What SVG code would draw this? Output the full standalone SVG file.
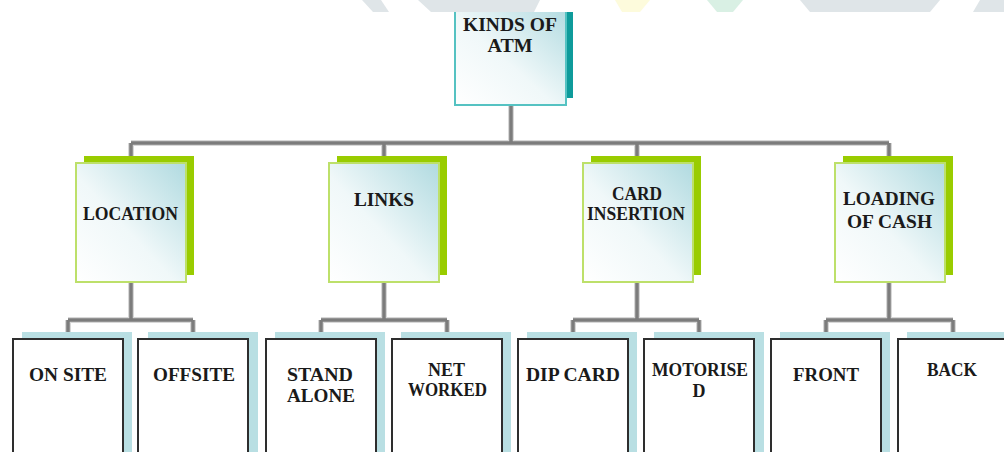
<svg xmlns="http://www.w3.org/2000/svg" width="1004" height="452" viewBox="0 0 1004 452">
<defs>
<linearGradient id="gFront" x1="0" y1="1" x2="1" y2="0">
<stop offset="0" stop-color="#ffffff"/>
<stop offset="0.45" stop-color="#f0f8f9"/>
<stop offset="1" stop-color="#b0dae0"/>
</linearGradient>
<clipPath id="clipTop"><rect x="0" y="12" width="1004" height="440"/></clipPath>
</defs>
<style>
.t{font-family:"Liberation Serif","Times New Roman",serif;font-weight:bold;font-size:18px;fill:#1a1a1a;text-anchor:middle}
.wm{stroke:none}
.c-sh{fill:none;stroke:#a8a8a8;stroke-width:6;stroke-opacity:0.45}
.c{fill:none;stroke:#7c7c7c;stroke-width:3.5}
.b1{fill:#0e9b9b}
.f1{fill:url(#gFront);stroke:#55c2c2;stroke-width:2}
.b2{fill:#99cc00}
.f2{fill:url(#gFront);stroke:#bde06a;stroke-width:2}
.b3{fill:#b9dfe3}
.f3{fill:#ffffff;stroke:#2e2e2e;stroke-width:2}
</style>
<rect x="0" y="0" width="1004" height="452" fill="#ffffff"/>

<g id="connectors">
<path class="c-sh" d="M511 105V143M131 143H889M131 143V156M384 143V156M637 143V156M889 143V156"/>
<path class="c" d="M511 105V143M131 143H889M131 143V156M384 143V156M637 143V156M889 143V156"/>
<path class="c-sh" d="M131 282V320M68 320H193M68 320V332M193 320V332M384 282V320M321 320H447M321 320V332M447 320V332M637 282V320M573 320H699M573 320V332M699 320V332M889 282V320M826 320H953M826 320V332M953 320V332"/>
<path class="c" d="M131 282V320M68 320H193M68 320V332M193 320V332M384 282V320M321 320H447M321 320V332M447 320V332M637 282V320M573 320H699M573 320V332M699 320V332M889 282V320M826 320H953M826 320V332M953 320V332"/>
</g>

<g id="node-kinds-of-atm" clip-path="url(#clipTop)">
<rect class="b1" x="462" y="-2" width="111" height="100"/>
<rect class="f1" x="455" y="5" width="111" height="100"/>
<text class="t" x="510" y="31" textLength="94" lengthAdjust="spacingAndGlyphs">KINDS OF</text>
<text class="t" x="510" y="52" textLength="45" lengthAdjust="spacingAndGlyphs">ATM</text>
</g>

<g id="node-location">
<rect class="b2" x="84" y="156" width="110" height="119"/>
<rect class="f2" x="76" y="163" width="110" height="119"/>
<text class="t" x="130.5" y="220" textLength="95" lengthAdjust="spacingAndGlyphs">LOCATION</text>
</g>
<g id="node-links">
<rect class="b2" x="337" y="156" width="110" height="119"/>
<rect class="f2" x="329" y="163" width="110" height="119"/>
<text class="t" x="384" y="206" textLength="60" lengthAdjust="spacingAndGlyphs">LINKS</text>
</g>
<g id="node-card-insertion">
<rect class="b2" x="591" y="156" width="110" height="119"/>
<rect class="f2" x="583" y="163" width="110" height="119"/>
<text class="t" x="637" y="200" textLength="50" lengthAdjust="spacingAndGlyphs">CARD</text>
<text class="t" x="636" y="220" textLength="98" lengthAdjust="spacingAndGlyphs">INSERTION</text>
</g>
<g id="node-loading-of-cash">
<rect class="b2" x="843" y="156" width="110" height="119"/>
<rect class="f2" x="835" y="163" width="110" height="119"/>
<text class="t" x="889" y="205" textLength="92" lengthAdjust="spacingAndGlyphs">LOADING</text>
<text class="t" x="889.5" y="228" textLength="85" lengthAdjust="spacingAndGlyphs">OF CASH</text>
</g>

<g id="node-on-site">
<rect class="b3" x="22" y="332" width="110" height="130"/>
<rect class="f3" x="13" y="339" width="110" height="130"/>
<text class="t" x="68" y="381" textLength="78" lengthAdjust="spacingAndGlyphs">ON SITE</text>
</g>
<g id="node-offsite">
<rect class="b3" x="148" y="332" width="110" height="130"/>
<rect class="f3" x="138" y="339" width="110" height="130"/>
<text class="t" x="194" y="381" textLength="82" lengthAdjust="spacingAndGlyphs">OFFSITE</text>
</g>
<g id="node-stand-alone">
<rect class="b3" x="275" y="332" width="110" height="130"/>
<rect class="f3" x="266" y="339" width="110" height="130"/>
<text class="t" x="320" y="381" textLength="66" lengthAdjust="spacingAndGlyphs">STAND</text>
<text class="t" x="321" y="402" textLength="68" lengthAdjust="spacingAndGlyphs">ALONE</text>
</g>
<g id="node-net-worked">
<rect class="b3" x="401" y="332" width="110" height="130"/>
<rect class="f3" x="392" y="339" width="110" height="130"/>
<text class="t" x="446.5" y="376" textLength="37" lengthAdjust="spacingAndGlyphs">NET</text>
<text class="t" x="447.5" y="396" textLength="79" lengthAdjust="spacingAndGlyphs">WORKED</text>
</g>
<g id="node-dip-card">
<rect class="b3" x="527" y="332" width="110" height="130"/>
<rect class="f3" x="518" y="339" width="110" height="130"/>
<text class="t" x="573" y="381" textLength="94" lengthAdjust="spacingAndGlyphs">DIP CARD</text>
</g>
<g id="node-motorised">
<rect class="b3" x="654" y="332" width="110" height="130"/>
<rect class="f3" x="644" y="339" width="110" height="130"/>
<text class="t" x="700" y="376" textLength="96" lengthAdjust="spacingAndGlyphs">MOTORISE</text>
<text class="t" x="699" y="397">D</text>
</g>
<g id="node-front">
<rect class="b3" x="780" y="332" width="110" height="130"/>
<rect class="f3" x="771" y="339" width="110" height="130"/>
<text class="t" x="826" y="381" textLength="66" lengthAdjust="spacingAndGlyphs">FRONT</text>
</g>
<g id="node-back">
<rect class="b3" x="907" y="332" width="110" height="130"/>
<rect class="f3" x="898" y="339" width="110" height="130"/>
<text class="t" x="952" y="376" textLength="50" lengthAdjust="spacingAndGlyphs">BACK</text>
</g>

<g id="watermark">
<polygon class="wm" fill="#dfe5e8" points="362,0 381,0 389,12 373,12"/>
<polygon class="wm" fill="#dfe5e8" points="418,0 540,0 534,12 431,12"/>
<polygon class="wm" fill="#fdfbdc" points="615,0 650,0 640,12 622,12"/>
<polygon class="wm" fill="#d9f0e4" points="707,0 743,0 733,12 717,12"/>
<polygon class="wm" fill="#dfe5e8" points="800,0 940,0 930,12 810,12"/>
<polygon class="wm" fill="#dfe5e8" points="980,0 1004,0 1004,12 973,12"/>
</g>
</svg>
